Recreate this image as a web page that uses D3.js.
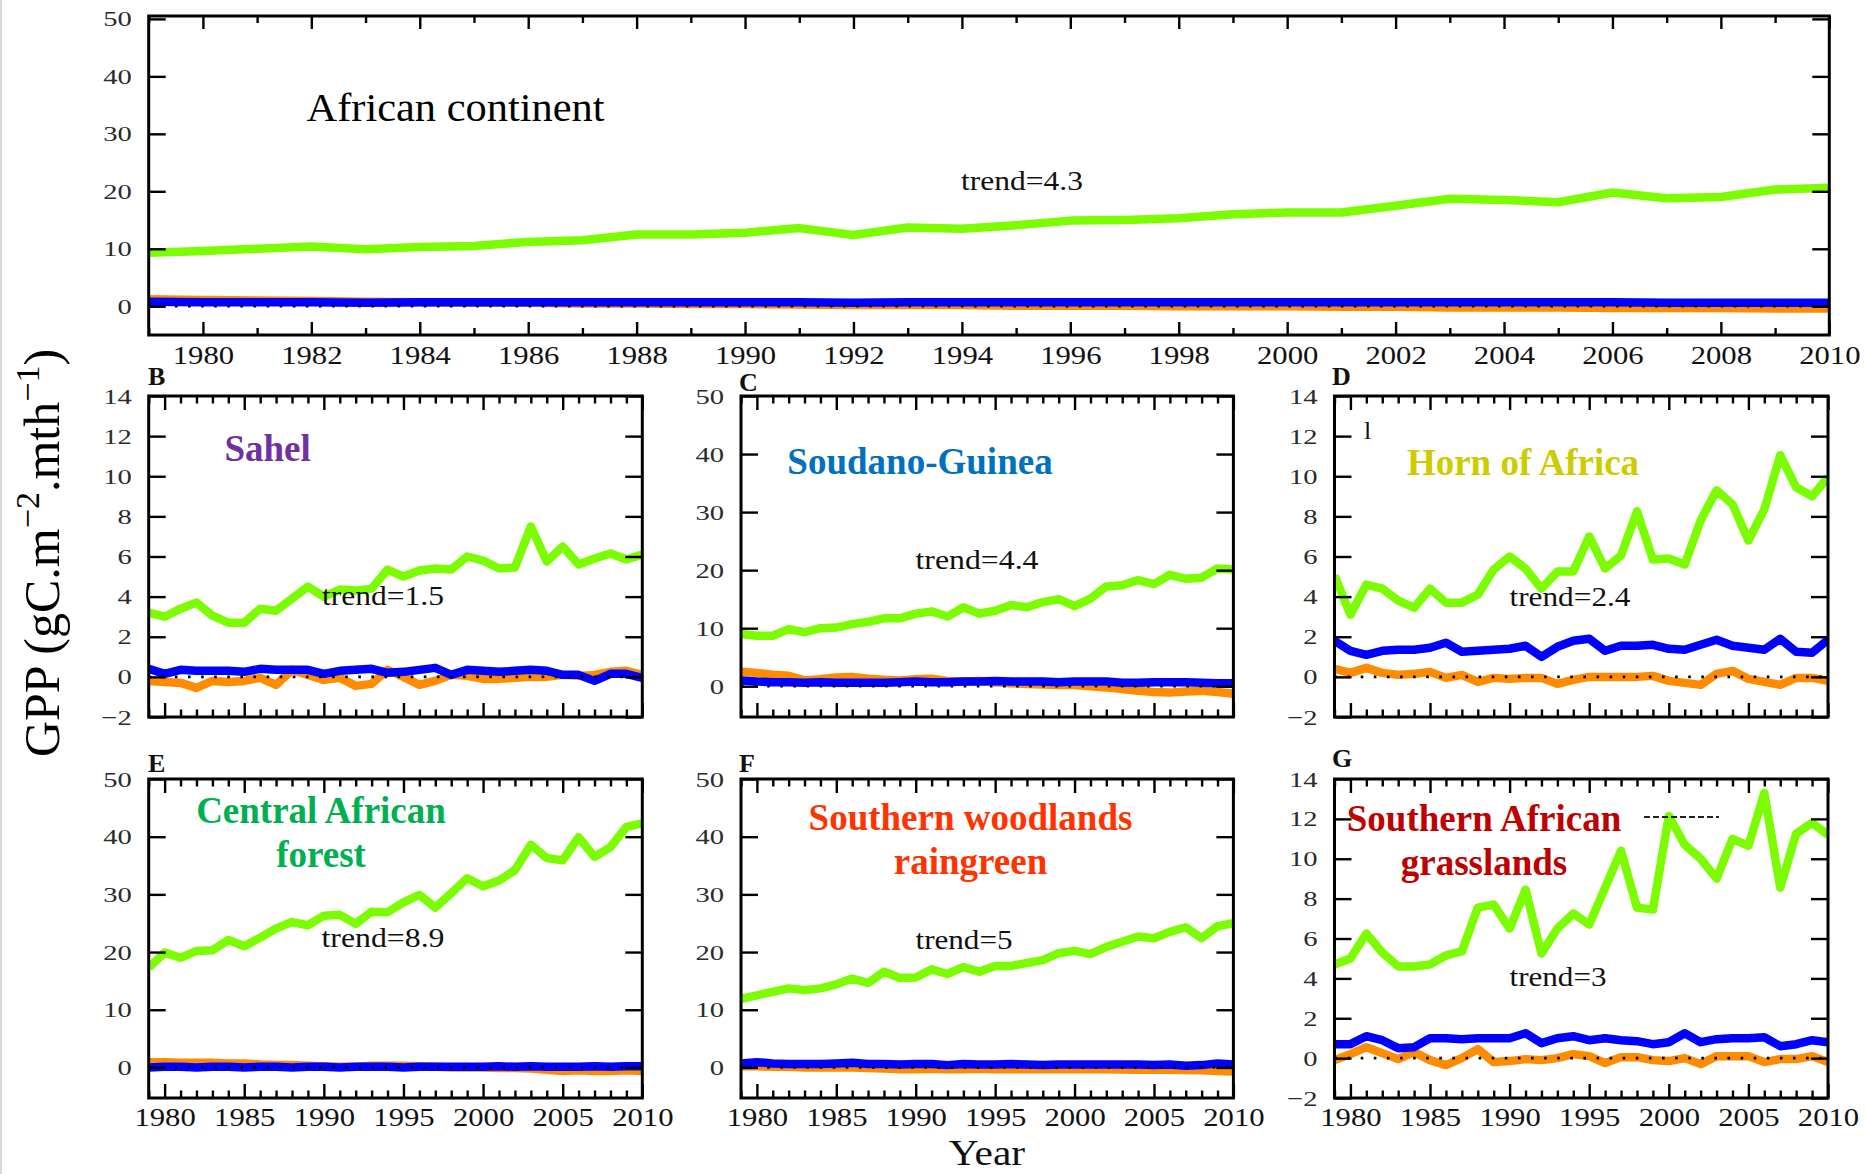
<!DOCTYPE html>
<html>
<head>
<meta charset="utf-8">
<script src="https://cdn.jsdelivr.net/npm/d3@7/dist/d3.min.js"></script>
<style>
  html, body { margin: 0; padding: 0; background: #fff; }
  svg { display: block; }
  text { font-family: "Liberation Serif", "Times New Roman", Times, serif; }
</style>
</head>
<body>
<svg id="chart" width="1865" height="1174"></svg>
<script>
// ---- Years of the simulation ----
const years = [1979, 1980, 1981, 1982, 1983, 1984, 1985, 1986, 1987, 1988,
               1989, 1990, 1991, 1992, 1993, 1994, 1995, 1996, 1997, 1998,
               1999, 2000, 2001, 2002, 2003, 2004, 2005, 2006, 2007, 2008,
               2009, 2010];

// ---- GPP anomalies (gC.m-2.mth-1), one array per region and component ----
const africaGreen  = [9.3, 9.6, 10.0, 10.4, 9.9, 10.3, 10.5, 11.2, 11.5, 12.5, 12.5, 12.8, 13.6, 12.4, 13.7, 13.5, 14.1, 14.9, 15.0, 15.3, 16.0, 16.3, 16.3, 17.5, 18.7, 18.5, 18.1, 19.8, 18.8, 19.0, 20.3, 20.6];
const africaBlue   = [0.8, 0.7, 0.7, 0.7, 0.6, 0.7, 0.7, 0.7, 0.7, 0.7, 0.7, 0.7, 0.7, 0.6, 0.7, 0.7, 0.7, 0.7, 0.7, 0.7, 0.7, 0.7, 0.7, 0.7, 0.7, 0.7, 0.7, 0.7, 0.6, 0.6, 0.6, 0.6];
const africaOrange = [1.2, 1.1, 1.0, 0.9, 0.8, 0.7, 0.6, 0.6, 0.5, 0.5, 0.4, 0.4, 0.3, 0.2, 0.2, 0.2, 0.1, 0.1, 0.1, 0.0, 0.0, 0.0, -0.1, -0.1, -0.2, -0.2, -0.2, -0.3, -0.3, -0.3, -0.4, -0.4];

const sahelGreen  = [3.2, 3.0, 3.4, 3.7, 3.05, 2.7, 2.7, 3.4, 3.3, 3.9, 4.5, 4.0, 4.35, 4.3, 4.4, 5.35, 5.0, 5.3, 5.4, 5.35, 6.0, 5.8, 5.4, 5.45, 7.5, 5.75, 6.5, 5.6, 5.9, 6.15, 5.85, 6.1];
const sahelBlue   = [0.4, 0.15, 0.35, 0.3, 0.3, 0.3, 0.25, 0.4, 0.35, 0.35, 0.35, 0.15, 0.3, 0.35, 0.4, 0.2, 0.25, 0.35, 0.45, 0.1, 0.35, 0.3, 0.25, 0.3, 0.35, 0.3, 0.1, 0.1, -0.2, 0.15, 0.15, -0.05];
const sahelOrange = [-0.2, -0.25, -0.3, -0.55, -0.2, -0.25, -0.2, -0.05, -0.4, 0.35, 0.1, -0.15, -0.05, -0.45, -0.35, 0.35, 0.0, -0.4, -0.2, 0.1, 0.05, -0.1, -0.1, -0.05, 0.0, 0.0, 0.1, 0.05, 0.1, 0.25, 0.3, 0.1];

const soudanoGreen  = [9.0, 8.7, 8.7, 9.85, 9.3, 10.0, 10.1, 10.7, 11.1, 11.7, 11.7, 12.5, 12.9, 12.0, 13.6, 12.5, 13.0, 14.0, 13.6, 14.5, 15.0, 13.8, 15.1, 17.2, 17.4, 18.3, 17.6, 19.2, 18.5, 18.7, 20.3, 20.1];
const soudanoBlue   = [1.0, 0.8, 0.7, 0.7, 0.6, 0.7, 0.6, 0.6, 0.6, 0.6, 0.7, 0.8, 0.7, 0.7, 0.8, 0.8, 0.9, 0.8, 0.8, 0.8, 0.7, 0.8, 0.8, 0.8, 0.6, 0.6, 0.7, 0.7, 0.7, 0.6, 0.5, 0.5];
const soudanoOrange = [2.5, 2.3, 2.0, 1.8, 1.0, 1.2, 1.5, 1.6, 1.3, 1.1, 1.0, 1.2, 1.3, 0.9, 0.8, 0.9, 0.7, 0.5, 0.4, 0.3, 0.2, 0.2, 0.0, -0.2, -0.5, -0.8, -1.0, -1.1, -0.9, -0.8, -1.0, -1.3];

const hornGreen  = [5.05, 3.1, 4.6, 4.4, 3.8, 3.45, 4.4, 3.7, 3.7, 4.1, 5.35, 6.0, 5.4, 4.4, 5.25, 5.25, 7.0, 5.4, 6.05, 8.25, 5.85, 5.9, 5.6, 7.8, 9.3, 8.6, 6.8, 8.35, 11.05, 9.45, 9.0, 9.95];
const hornBlue   = [1.8, 1.3, 1.1, 1.3, 1.35, 1.35, 1.45, 1.7, 1.25, 1.3, 1.35, 1.4, 1.55, 1.0, 1.5, 1.8, 1.9, 1.3, 1.55, 1.55, 1.6, 1.4, 1.35, 1.6, 1.85, 1.55, 1.45, 1.35, 1.9, 1.25, 1.2, 1.85];
const hornOrange = [0.4, 0.2, 0.45, 0.2, 0.1, 0.15, 0.25, -0.05, 0.1, -0.25, -0.05, -0.1, -0.05, -0.05, -0.35, -0.15, 0.0, 0.0, 0.0, 0.0, 0.05, -0.2, -0.3, -0.4, 0.15, 0.3, -0.1, -0.25, -0.4, -0.05, -0.05, -0.2];

const forestGreen  = [17.3, 19.9, 19.0, 20.2, 20.3, 22.1, 21.0, 22.5, 24.1, 25.2, 24.65, 26.3, 26.45, 24.9, 27.0, 26.9, 28.6, 29.9, 27.7, 30.2, 32.8, 31.4, 32.4, 34.2, 38.6, 36.3, 35.9, 39.9, 36.5, 38.2, 41.7, 42.3];
const forestBlue   = [0.0, 0.1, 0.1, 0.0, 0.1, 0.1, 0.0, 0.1, 0.1, 0.0, 0.1, 0.1, 0.0, 0.1, 0.1, 0.1, 0.0, 0.1, 0.1, 0.1, 0.1, 0.1, 0.2, 0.1, 0.2, 0.1, 0.1, 0.1, 0.2, 0.1, 0.2, 0.2];
const forestOrange = [0.9, 0.9, 0.8, 0.8, 0.8, 0.7, 0.7, 0.5, 0.4, 0.4, 0.3, 0.2, 0.1, 0.1, 0.3, 0.3, 0.3, 0.2, 0.1, 0.0, 0.0, 0.0, -0.1, -0.1, -0.2, -0.4, -0.6, -0.5, -0.6, -0.6, -0.5, -0.6];

const woodlandGreen  = [11.9, 12.5, 13.1, 13.7, 13.4, 13.7, 14.4, 15.4, 14.65, 16.6, 15.5, 15.6, 17.0, 16.2, 17.4, 16.6, 17.6, 17.6, 18.1, 18.6, 19.8, 20.2, 19.65, 20.9, 21.8, 22.7, 22.4, 23.5, 24.3, 22.4, 24.5, 25.0];
const woodlandBlue   = [0.7, 0.9, 0.7, 0.6, 0.6, 0.6, 0.7, 0.8, 0.6, 0.6, 0.5, 0.6, 0.6, 0.4, 0.6, 0.5, 0.5, 0.6, 0.5, 0.4, 0.5, 0.5, 0.5, 0.5, 0.5, 0.5, 0.4, 0.5, 0.3, 0.4, 0.7, 0.5];
const woodlandOrange = [0.2, 0.2, 0.1, 0.1, 0.0, 0.0, 0.0, 0.0, -0.1, -0.2, -0.3, -0.3, -0.25, -0.3, -0.3, -0.25, -0.3, -0.3, -0.3, -0.3, -0.3, -0.3, -0.3, -0.3, -0.35, -0.4, -0.4, -0.4, -0.45, -0.5, -0.6, -0.7];

const grassGreen  = [4.7, 5.0, 6.25, 5.3, 4.6, 4.6, 4.7, 5.15, 5.35, 7.55, 7.7, 6.5, 8.45, 5.25, 6.5, 7.25, 6.7, 8.55, 10.4, 7.55, 7.45, 12.15, 10.7, 10.0, 9.0, 11.0, 10.65, 13.3, 8.55, 11.25, 11.8, 11.2];
const grassBlue   = [0.7, 0.7, 1.1, 0.9, 0.5, 0.55, 1.0, 1.0, 0.95, 1.0, 1.0, 1.0, 1.25, 0.75, 1.0, 1.1, 0.9, 1.0, 0.9, 0.85, 0.7, 0.8, 1.25, 0.8, 0.95, 1.0, 1.0, 1.05, 0.6, 0.7, 0.9, 0.8];
const grassOrange = [-0.1, 0.2, 0.55, 0.25, -0.05, 0.3, -0.1, -0.35, 0.0, 0.45, -0.2, -0.15, -0.05, -0.1, 0.0, 0.2, 0.1, -0.25, 0.05, 0.05, -0.1, -0.15, 0.0, -0.3, 0.1, 0.1, 0.1, -0.2, -0.05, -0.05, 0.1, -0.2];

// ---- Labels ----
const regionNames  = [["African continent"], ["Sahel"], ["Soudano-Guinea"], ["Horn of Africa"],
                      ["Central African", "forest"], ["Southern woodlands", "raingreen"],
                      ["Southern African", "grasslands"]];
const panelLetters = ["", "B", "C", "D", "E", "F", "G"];
const trendValues  = ["4.3", "1.5", "4.4", "2.4", "8.9", "5", "3"];
const yTicksSmall  = [-2, 0, 2, 4, 6, 8, 10, 12, 14];
const yTicksLarge  = [0, 10, 20, 30, 40, 50];

const greenSeries  = [africaGreen, sahelGreen, soudanoGreen, hornGreen, forestGreen, woodlandGreen, grassGreen];
const blueSeries   = [africaBlue, sahelBlue, soudanoBlue, hornBlue, forestBlue, woodlandBlue, grassBlue];
const orangeSeries = [africaOrange, sahelOrange, soudanoOrange, hornOrange, forestOrange, woodlandOrange, grassOrange];

// ---- Panel geometry and styling ----
const colL = [148.7, 642.3], colM = [741, 1233.4], colR = [1334.5, 1828];
const row1 = [396, 717], row2 = [779, 1098];
const layout = [
  { x: [148.7, 1829.3], y: [16, 335], yDomain: [-5, 50.5], yTicks: yTicksLarge, xStep: 2, xLabels: true,
    xMajor: 13, xMinor: 7, xFont: 26, xPad: 11,
    title: { x: 455.5, y: 121, size: 41, weight: "normal", color: "#000", len: 298 },
    trend: { x: 1022, y: 190, len: 122 } },
  { x: colL, y: row1, yDomain: [-2, 14], yTicks: yTicksSmall, xStep: 5, xLabels: false,
    letter: { x: 148, y: 385 },
    title: { x: 267.6, y: 461, color: "#7030a0" }, trend: { x: 383, y: 605, len: 122 } },
  { x: colM, y: row1, yDomain: [-5.3, 50], yTicks: yTicksLarge, xStep: 5, xLabels: false,
    letter: { x: 739, y: 391 },
    title: { x: 920, y: 474, color: "#0070c0" }, trend: { x: 977, y: 569, len: 123 } },
  { x: colR, y: row1, yDomain: [-2, 14], yTicks: yTicksSmall, xStep: 5, xLabels: false,
    letter: { x: 1332, y: 385 },
    title: { x: 1523, y: 475, color: "#cccc00" }, trend: { x: 1570, y: 606, len: 121 } },
  { x: colL, y: row2, yDomain: [-5.3, 50], yTicks: yTicksLarge, xStep: 5, xLabels: true,
    letter: { x: 148, y: 772 },
    title: { x: 321, y: 823, color: "#00b050" }, trend: { x: 383, y: 947, len: 123 } },
  { x: colM, y: row2, yDomain: [-5.3, 50], yTicks: yTicksLarge, xStep: 5, xLabels: true,
    letter: { x: 739, y: 772 },
    title: { x: 970.5, y: 830, color: "#ff3300" }, trend: { x: 964, y: 949, len: 97 } },
  { x: colR, y: row2, yDomain: [-2, 14], yTicks: yTicksSmall, xStep: 5, xLabels: true,
    letter: { x: 1332, y: 767 },
    title: { x: 1484, y: 831, color: "#c00000" }, trend: { x: 1558, y: 986, len: 97 } }
];

const COLORS = { green: "#7cfc00", orange: "#ff8c00", blue: "#0000ff" };
const LINE_W = 8.5;
const X_SCALE_TXT = 1.18;   // digits are drawn slightly wide
const Y_SCALE_TXT = 1.3;

const svg = d3.select("#chart");
svg.append("rect").attr("width", 1865).attr("height", 1174).attr("fill", "#fff");
svg.append("rect").attr("x", 0).attr("y", 0).attr("width", 2).attr("height", 1174).attr("fill", "#d9d9d9");
const defs = svg.append("defs");

layout.forEach((p, i) => {
  const x = d3.scaleLinear().domain([1979, 2010]).range(p.x);
  const y = d3.scaleLinear().domain(p.yDomain).range([p.y[1], p.y[0]]);
  const g = svg.append("g").attr("class", "panel");

  defs.append("clipPath").attr("id", "clip" + i)
    .append("rect").attr("x", p.x[0]).attr("y", p.y[0])
    .attr("width", p.x[1] - p.x[0]).attr("height", p.y[1] - p.y[0]);

  const plot = g.append("g").attr("clip-path", `url(#clip${i})`);
  const line = d3.line().x((d, j) => x(years[j])).y(d => y(d));

  [[greenSeries[i], COLORS.green], [orangeSeries[i], COLORS.orange], [blueSeries[i], COLORS.blue]]
    .forEach(([vals, col]) => {
      plot.append("path").datum(vals)
        .attr("d", line).attr("fill", "none")
        .attr("stroke", col).attr("stroke-width", LINE_W)
        .attr("stroke-linejoin", "round").attr("stroke-linecap", "butt");
    });

  // dotted zero reference
  plot.append("line")
    .attr("x1", p.x[0]).attr("x2", p.x[1]).attr("y1", y(0)).attr("y2", y(0))
    .attr("stroke", "#000").attr("stroke-width", 2.6).attr("stroke-dasharray", "2.6,10.5");

  // tick marks on all four sides
  const major = years.filter(yr => (yr - 1980) % p.xStep === 0);
  const minor = years.filter(yr => (yr - 1980) % p.xStep !== 0);
  const xMajor = p.xMajor || 14, xMinor = p.xMinor || 7.5, yLen = 17;

  const axB = g.append("g").attr("transform", `translate(0,${p.y[1]})`)
    .call(d3.axisBottom(x).tickValues(major).tickSize(-xMajor).tickPadding(p.xPad || 10)
      .tickFormat(p.xLabels ? d3.format("d") : () => ""));
  axB.selectAll("text")
    .attr("font-size", p.xFont || 26).attr("fill", "#111")
    .attr("transform", `scale(${X_SCALE_TXT},1)`);
  g.append("g").attr("transform", `translate(0,${p.y[1]})`)
    .call(d3.axisBottom(x).tickValues(minor).tickSize(-xMinor).tickFormat(() => ""));
  g.append("g").attr("transform", `translate(0,${p.y[0]})`)
    .call(d3.axisTop(x).tickValues(major).tickSize(-xMajor).tickFormat(() => ""));
  g.append("g").attr("transform", `translate(0,${p.y[0]})`)
    .call(d3.axisTop(x).tickValues(minor).tickSize(-xMinor).tickFormat(() => ""));

  const axL = g.append("g").attr("transform", `translate(${p.x[0]},0)`)
    .call(d3.axisLeft(y).tickValues(p.yTicks).tickSize(-yLen).tickPadding(17 / Y_SCALE_TXT)
      .tickFormat(d3.format("d")));
  axL.selectAll("text")
    .attr("font-size", 22).attr("fill", "#2a2a2a")
    .attr("transform", `scale(${Y_SCALE_TXT},1)`);
  g.append("g").attr("transform", `translate(${p.x[1]},0)`)
    .call(d3.axisRight(y).tickValues(p.yTicks).tickSize(-yLen).tickFormat(() => ""));

  g.selectAll(".domain").remove();
  g.selectAll(".tick line").attr("stroke", "#000").attr("stroke-width", 2.4);

  // frame
  g.append("rect")
    .attr("x", p.x[0]).attr("y", p.y[0])
    .attr("width", p.x[1] - p.x[0]).attr("height", p.y[1] - p.y[0])
    .attr("fill", "none").attr("stroke", "#000").attr("stroke-width", 3);

  // panel letter
  if (p.letter) {
    g.append("text").attr("x", p.letter.x).attr("y", p.letter.y)
      .attr("font-size", 26).attr("font-weight", "bold").attr("fill", "#111")
      .text(panelLetters[i]);
  }

  // region name
  const t = p.title;
  regionNames[i].forEach((ln, k) => {
    const tx = g.append("text")
      .attr("x", t.x).attr("y", t.y + k * 44)
      .attr("text-anchor", "middle")
      .attr("font-size", t.size || 37)
      .attr("font-weight", t.weight || "bold")
      .attr("fill", t.color)
      .text(ln);
    if (t.len) tx.attr("textLength", t.len).attr("lengthAdjust", "spacingAndGlyphs");
  });

  // trend annotation
  g.append("text")
    .attr("x", p.trend.x - p.trend.len / 2).attr("y", p.trend.y)
    .attr("font-size", 28).attr("fill", "#111")
    .attr("textLength", p.trend.len).attr("lengthAdjust", "spacingAndGlyphs")
    .text("trend=" + trendValues[i]);
});

// stray marks carried in the figure
svg.append("text").attr("x", 1364).attr("y", 439).attr("font-size", 26).attr("fill", "#111").text("l");
svg.append("line").attr("x1", 1644).attr("x2", 1719).attr("y1", 817).attr("y2", 817)
  .attr("stroke", "#222").attr("stroke-width", 2).attr("stroke-dasharray", "6,3");

// shared axis titles
const yTitle = svg.append("text")
  .attr("transform", "translate(59,553) rotate(-90)")
  .attr("text-anchor", "middle").attr("font-size", 50).attr("fill", "#000");
yTitle.append("tspan").text("GPP (gC.m");
yTitle.append("tspan").attr("font-size", 34).attr("dy", -20).text("\u22122");
yTitle.append("tspan").attr("dy", 20).text(".mth");
yTitle.append("tspan").attr("font-size", 34).attr("dy", -20).text("\u22121");
yTitle.append("tspan").attr("dy", 20).text(")");

svg.append("text")
  .attr("transform", "translate(987,1165) scale(1.15,1)")
  .attr("text-anchor", "middle").attr("font-size", 36).attr("fill", "#111")
  .text("Year");
</script>
</body>
</html>
